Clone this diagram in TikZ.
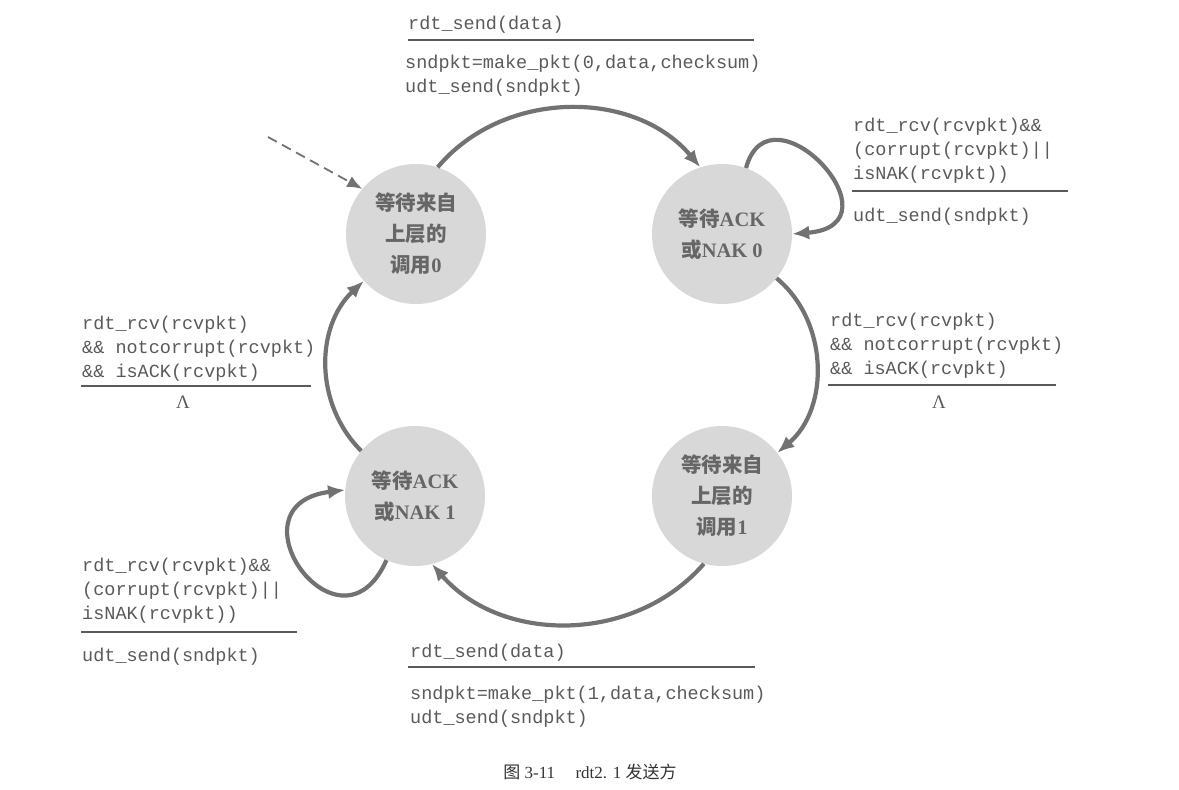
\documentclass[tikz,border=0pt]{standalone}
\usepackage{fontspec}
\setmainfont{Liberation Serif}
\newfontfamily\zhfont{Noto Sans CJK SC}
\newfontfamily\monofont{Liberation Mono}
\usetikzlibrary{arrows.meta}
\definecolor{stategray}{HTML}{D8D8D8}
\definecolor{arrowgray}{HTML}{727272}
\definecolor{labelgray}{HTML}{5A5A5A}
\definecolor{statetext}{HTML}{666666}
\newcommand\zh[1]{{\zhfont #1}}
\begin{document}
\begin{tikzpicture}[x=1pt,y=1pt,
 state/.style={circle, fill=stategray, minimum size=140pt, inner sep=0pt, align=center, text=statetext, font=\fontsize{20.5}{31}\selectfont\bfseries},
 trans/.style={draw=arrowgray, line width=4.2pt, -{Latex[length=17pt,width=14pt]}},
 initarrow/.style={draw=arrowgray, line width=1.8pt, dash pattern=on 10pt off 6pt, -{Latex[length=15pt,width=12pt]}},
 lbl/.style={font=\monofont\fontsize{18.5}{24}\selectfont, text=labelgray, align=left, inner sep=0pt, anchor=north west},
 sep/.style={draw=labelgray, line width=1.8pt},
 lam/.style={font=\fontsize{19}{20}\selectfont, text=labelgray, inner sep=0pt}
]
\useasboundingbox[fill=white] (0,0) rectangle (1179,-790);

% states
\node[state] (tl) at (416,-234) {\zh{等待来自}\\\zh{上层的}\\\zh{调用}0};
\node[state] (tr) at (722,-234) {\zh{等待}ACK\\\zh{或}NAK 0};
\node[state] (bl) at (415,-496) {\zh{等待}ACK\\\zh{或}NAK 1};
\node[state] (br) at (722,-496) {\zh{等待来自}\\\zh{上层的}\\\zh{调用}1};

% initial arrow
\coordinate (init) at (268,-137);
\draw[initarrow] (init) -- (tl.140);

% transitions
\draw[trans] (tl.72) to[bend left=50] (tr.108);
\draw[trans] (tr.70) .. controls (770,-80) and (905,-225) .. (tr.0);
\draw[trans] (tr.-39) to[bend left=50] (br.38);
\draw[trans] (br.-105) to[bend left=49] (bl.-76);
\draw[trans] (bl.-114) .. controls (340,-665) and (225,-505) .. (bl.175);
\draw[trans] (bl.140) to[bend left=46] (tl.-138);

% top label
\node[lbl] (tc) at (408,-16) {rdt\_send(data)};
\draw[sep] (408,-40) -- (754,-40);
\node[lbl] (ta) at (405,-55) {sndpkt=make\_pkt(0,data,checksum)\\udt\_send(sndpkt)};

% right self-loop label
\node[lbl] (rc) at (853,-118) {rdt\_rcv(rcvpkt)\&\&\\(corrupt(rcvpkt)||\\isNAK(rcvpkt))};
\draw[sep] (852,-191) -- (1068,-191);
\node[lbl] (ra) at (853,-208) {udt\_send(sndpkt)};

% right middle label
\node[lbl] (mc) at (830,-313) {rdt\_rcv(rcvpkt)\\\&\& notcorrupt(rcvpkt)\\\&\& isACK(rcvpkt)};
\draw[sep] (828,-385) -- (1056,-385);
\node[lam] (ml) at (939,-402) {Λ};

% left label
\node[lbl] (lc) at (82,-316) {rdt\_rcv(rcvpkt)\\\&\& notcorrupt(rcvpkt)\\\&\& isACK(rcvpkt)};
\draw[sep] (81,-386) -- (311,-386);
\node[lam] (ll) at (183,-402) {Λ};

% bottom-left self-loop label
\node[lbl] (bc) at (82,-558) {rdt\_rcv(rcvpkt)\&\&\\(corrupt(rcvpkt)||\\isNAK(rcvpkt))};
\draw[sep] (81,-632) -- (297,-632);
\node[lbl] (ba) at (82,-648) {udt\_send(sndpkt)};

% bottom label
\node[lbl] (dc) at (410,-644) {rdt\_send(data)};
\draw[sep] (408,-667) -- (755,-667);
\node[lbl] (da) at (410,-686) {sndpkt=make\_pkt(1,data,checksum)\\udt\_send(sndpkt)};

% caption
\node[font=\fontsize{17}{20}\selectfont, text=black!80, inner sep=0pt] (cap) at (590,-772) {\zh{图} 3-11\hspace{1.2em}rdt2. 1 \zh{发送方}};
\end{tikzpicture}
\end{document}
